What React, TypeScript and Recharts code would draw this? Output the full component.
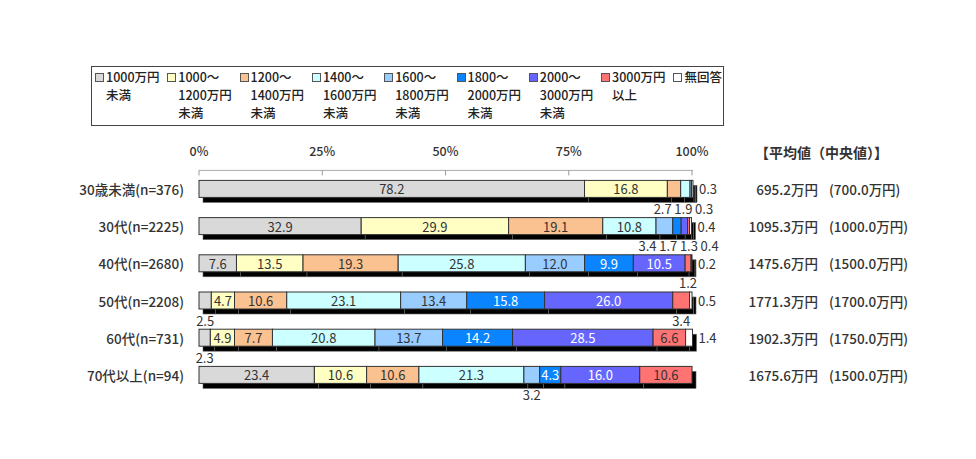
import { BarChart, Bar, XAxis, YAxis } from 'recharts'

const groups = [
  '30歳未満(n=376)',
  '30代(n=2225)',
  '40代(n=2680)',
  '50代(n=2208)',
  '60代(n=731)',
  '70代以上(n=94)',
]

// 年収帯ごとの構成比 (%)
const under1000 = [78.2, 32.9, 7.6, 2.5, 2.3, 23.4]
const from1000 = [16.8, 29.9, 13.5, 4.7, 4.9, 10.6]
const from1200 = [2.7, 19.1, 19.3, 10.6, 7.7, 10.6]
const from1400 = [1.9, 10.8, 25.8, 23.1, 20.8, 21.3]
const from1600 = [0.3, 3.4, 12.0, 13.4, 13.7, 3.2]
const from1800 = [0, 1.7, 9.9, 15.8, 14.2, 4.3]
const from2000 = [0, 1.3, 10.5, 26.0, 28.5, 16.0]
const over3000 = [0, 0.4, 1.2, 3.4, 6.6, 10.6]
const noAnswer = [0.3, 0.4, 0.2, 0.5, 1.4, 0]

const meanIncome = ['695.2', '1095.3', '1475.6', '1771.3', '1902.3', '1675.6']
const medianIncome = ['700.0', '1000.0', '1500.0', '1700.0', '1750.0', '1500.0']

const pctTicks = [0, 25, 50, 75, 100]

const series = [
  { key: 's0', values: under1000, color: '#d9d9d9', text: '#333', lines: ['1000万円', '未満'] },
  { key: 's1', values: from1000, color: '#ffffc4', text: '#333', lines: ['1000～', '1200万円', '未満'] },
  { key: 's2', values: from1200, color: '#fbc291', text: '#333', lines: ['1200～', '1400万円', '未満'] },
  { key: 's3', values: from1400, color: '#ccffff', text: '#333', lines: ['1400～', '1600万円', '未満'] },
  { key: 's4', values: from1600, color: '#99ccff', text: '#333', lines: ['1600～', '1800万円', '未満'] },
  { key: 's5', values: from1800, color: '#0a84ff', text: '#fff', lines: ['1800～', '2000万円', '未満'] },
  { key: 's6', values: from2000, color: '#6666ff', text: '#fff', lines: ['2000～', '3000万円', '未満'] },
  { key: 's7', values: over3000, color: '#ff7373', text: '#333', lines: ['3000万円', '以上'] },
  { key: 's8', values: noAnswer, color: '#ffffff', text: '#333', lines: ['無回答'] },
]

const data = groups.map((group, row) => {
  const rec: Record<string, any> = { group, row }
  series.forEach((s) => (rec[s.key] = s.values[row]))
  return rec
})

// start of each segment along the 0-100 axis
const startOf = groups.map((_, row) => {
  let acc = 0
  return series.map((s) => {
    const st = acc
    acc += s.values[row]
    return st
  })
})

const INSIDE_MIN = 4
const LABEL_GAP = 4.2 // in % units

// spread small-value labels under the bar so they don't collide
function spread(centers: number[], gap: number) {
  let clusters = centers.map((c) => ({ members: [c], start: c }))
  let merged = true
  while (merged) {
    merged = false
    for (let i = 0; i < clusters.length - 1; i++) {
      const a = clusters[i]
      const b = clusters[i + 1]
      const aEnd = a.start + (a.members.length - 1) * gap
      if (b.start - aEnd < gap) {
        const members = [...a.members, ...b.members]
        const mean = members.reduce((s, c) => s + c, 0) / members.length
        clusters.splice(i, 2, { members, start: mean - ((members.length - 1) * gap) / 2 })
        merged = true
        break
      }
    }
  }
  return clusters.flatMap((c) => c.members.map((_, j) => c.start + j * gap))
}

const belowPos = groups.map((_, row) => {
  const ks: number[] = []
  const centers: number[] = []
  series.forEach((s, k) => {
    const v = s.values[row]
    if (k < series.length - 1 && v > 0 && v < INSIDE_MIN) {
      ks.push(k)
      centers.push(startOf[row][k] + v / 2)
    }
  })
  const pos = spread(centers, LABEL_GAP)
  const out: Record<number, number> = {}
  ks.forEach((k, i) => (out[k] = pos[i]))
  return out
})

const FONT = "'Noto Sans CJK JP', 'Noto Sans', sans-serif"

function Segment(props: any) {
  const { x, y, width, height, payload, k } = props
  const s = series[k]
  const v: number = payload[s.key]
  if (!v || width <= 0) return null
  const cy = y + height / 2
  const txt = v.toFixed(1)
  let label = null
  if (k === series.length - 1) {
    label = (
      <text x={x + width + 6} y={cy} dominantBaseline="central" fontSize={13} fill="#333">
        {txt}
      </text>
    )
  } else if (v >= INSIDE_MIN) {
    label = (
      <text x={x + width / 2} y={cy} textAnchor="middle" dominantBaseline="central" fontSize={13} fill={s.text}>
        {txt}
      </text>
    )
  } else {
    const row = payload.row
    const lx = x + ((belowPos[row][k] - startOf[row][k]) * width) / v
    label = (
      <text x={lx} y={y + height + 11} textAnchor="middle" dominantBaseline="central" fontSize={13} fill="#333">
        {txt}
      </text>
    )
  }
  return (
    <g>
      <rect x={x + 4} y={y + 5} width={width} height={height} fill="#000" stroke="#666" strokeWidth={0.6} />
      <rect x={x} y={y} width={width} height={height} fill={s.color} stroke="#333" strokeWidth={1} />
      {label}
    </g>
  )
}

function PctTick(props: any) {
  const { x, y, payload } = props
  return (
    <g>
      <text x={x} y={y} textAnchor="middle" fontSize={12.5} fontWeight={500} fill="#333">
        {payload.value}%
      </text>
      <line x1={x} x2={x} y1={y + 14} y2={y + 19} stroke="#999" />
    </g>
  )
}

function GroupTick(props: any) {
  const { x, y, payload } = props
  return (
    <text x={x} y={y} textAnchor="end" dominantBaseline="central" fontSize={13.5} fontWeight={500} fill="#333">
      {payload.value}
    </text>
  )
}

function IncomeTick(props: any) {
  const { x, y, payload } = props
  const i = groups.indexOf(payload.value)
  return (
    <g fontSize={13.5} fontWeight={500} fill="#333">
      <text x={x + 125} y={y} textAnchor="end" dominantBaseline="central">
        {meanIncome[i]}万円
      </text>
      <text x={x + 136} y={y} dominantBaseline="central">
        ({medianIncome[i]}万円)
      </text>
    </g>
  )
}

function IncomeLegend() {
  return (
    <div
      style={{
        position: 'absolute',
        left: 91,
        top: 66,
        width: 633,
        height: 60,
        border: '1px solid #444',
        boxSizing: 'border-box',
        fontSize: 12.5,
        fontWeight: 500,
        color: '#222',
        lineHeight: '18px',
      }}
    >
      {series.map((s, k) => (
        <div key={s.key} style={{ position: 'absolute', left: 3 + k * 72.3, top: 1, whiteSpace: 'nowrap' }}>
          {s.lines.map((ln, j) => (
            <div key={j} style={{ paddingLeft: 11, position: 'relative' }}>
              {j === 0 && (
                <span
                  style={{
                    position: 'absolute',
                    left: 0,
                    top: 5,
                    width: 7,
                    height: 7,
                    background: s.color,
                    border: '1px solid #555',
                  }}
                />
              )}
              {ln}
            </div>
          ))}
        </div>
      ))}
    </div>
  )
}

export default function App() {
  return (
    <div style={{ position: 'absolute', left: 0, top: 0, width: 976, height: 459, background: '#fff', fontFamily: FONT }}>
      <IncomeLegend />
      <div
        style={{
          position: 'absolute',
          left: 755,
          top: 143,
          fontSize: 14,
          fontWeight: 'bold',
          color: '#333',
          lineHeight: '18px',
        }}
      >
        【平均値（中央値）】
      </div>
      <BarChart
        width={976}
        height={459}
        data={data}
        layout="vertical"
        margin={{ top: 140.4, right: 0, bottom: 65.4, left: 9 }}
      >
        <XAxis
          type="number"
          orientation="top"
          domain={[0, 100]}
          ticks={pctTicks}
          height={30}
          tickSize={0}
          tickMargin={14}
          tickLine={false}
          axisLine={{ stroke: '#aaa' }}
          tick={<PctTick />}
        />
        <YAxis
          yAxisId="left"
          type="category"
          dataKey="group"
          width={190}
          tickSize={0}
          tickMargin={15}
          tickLine={false}
          axisLine={false}
          tick={<GroupTick />}
        />
        <YAxis
          yAxisId="right"
          orientation="right"
          type="category"
          dataKey="group"
          width={283}
          tickSize={0}
          tickMargin={0}
          tickLine={false}
          axisLine={false}
          tick={<IncomeTick />}
        />
        {series.map((s, k) => (
          <Bar
            key={s.key}
            dataKey={s.key}
            yAxisId="left"
            stackId="a"
            barSize={17}
            isAnimationActive={false}
            shape={(p: any) => <Segment {...p} k={k} />}
          />
        ))}
      </BarChart>
    </div>
  )
}
